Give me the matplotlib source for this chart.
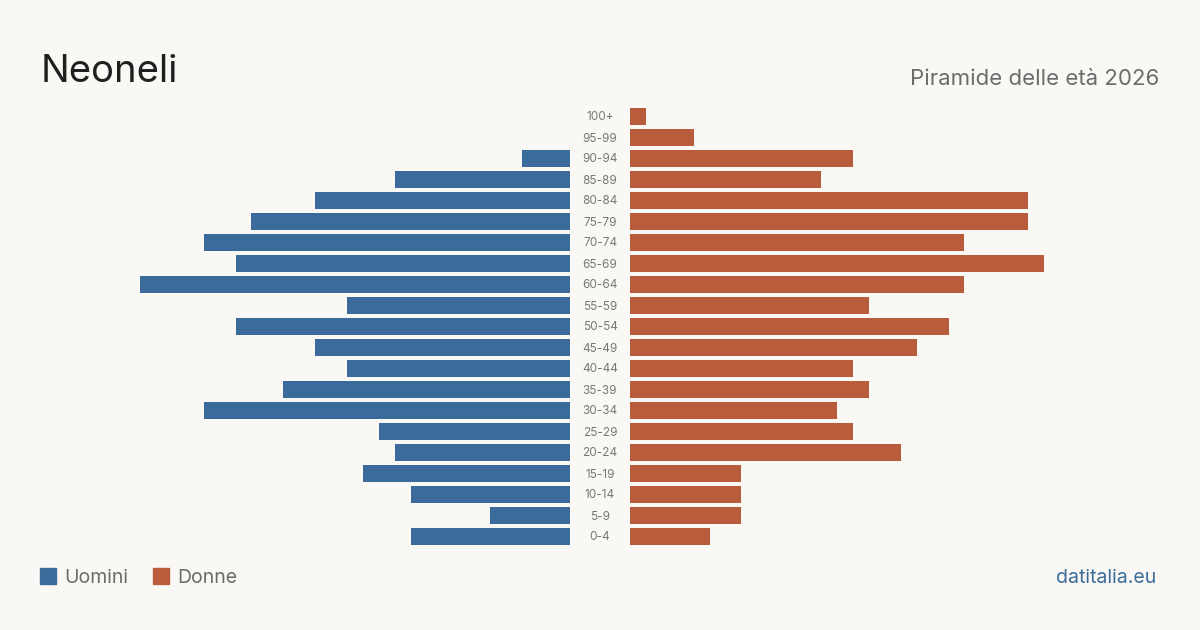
import matplotlib.pyplot as plt
from matplotlib.patches import Rectangle

plt.rcParams['font.family'] = ['Inter', 'DejaVu Sans']

age_groups = ['0-4', '5-9', '10-14', '15-19', '20-24', '25-29', '30-34', '35-39',
              '40-44', '45-49', '50-54', '55-59', '60-64', '65-69', '70-74',
              '75-79', '80-84', '85-89', '90-94', '95-99', '100+']
men = [10, 5, 10, 13, 11, 12, 23, 18, 14, 16, 21, 14, 27, 21, 23, 20, 16, 11, 3, 0, 0]
women = [5, 7, 7, 7, 17, 14, 13, 15, 14, 18, 20, 15, 21, 26, 21, 25, 25, 12, 14, 4, 1]

bg = '#f9f8f4'
blue = '#3a6b9b'
red = '#b95c3c'

fig = plt.figure(figsize=(12, 6.3), dpi=100, facecolor=bg)
xmax = max(max(men), max(women))
ypos = list(range(len(age_groups)))

ax_l = fig.add_axes([140 / 1200, 83 / 630, 430 / 1200, 441 / 630])
ax_r = fig.add_axes([630 / 1200, 83 / 630, 430 / 1200, 441 / 630])

ax_l.barh(ypos, men, height=17 / 21, color=blue)
ax_l.set_xlim(xmax, 0)
ax_r.barh(ypos, women, height=17 / 21, color=red)
ax_r.set_xlim(0, xmax)

for ax in (ax_l, ax_r):
    ax.set_ylim(-0.5, len(age_groups) - 0.5)
    ax.axis('off')
    ax.set_facecolor('none')

for y, lab in zip(ypos, age_groups):
    fig.text(600 / 1200, 1 - (537.5 - 21 * y) / 630, lab, ha='center', va='center',
             fontsize=8.5, color='#777777')

fig.text(41 / 1200, 1 - 82 / 630, 'Neoneli', fontsize=27.5, color='#1f1f1f',
         ha='left', va='baseline')
fig.text(1159 / 1200, 1 - 85 / 630, 'Piramide delle età 2026', fontsize=16,
         color='#6b6b6b', ha='right', va='baseline')

# legend
fig.patches.append(Rectangle((40 / 1200, 1 - 584 / 630), 16 / 1200, 16 / 630,
                             transform=fig.transFigure, color=blue))
fig.text(64 / 1200, 1 - 583 / 630, 'Uomini', fontsize=14, color='#6b6b6b',
         ha='left', va='baseline')
fig.patches.append(Rectangle((153 / 1200, 1 - 584 / 630), 16 / 1200, 16 / 630,
                             transform=fig.transFigure, color=red))
fig.text(177 / 1200, 1 - 583 / 630, 'Donne', fontsize=14, color='#6b6b6b',
         ha='left', va='baseline')

fig.text(1156 / 1200, 1 - 583 / 630, 'datitalia.eu', fontsize=14, color=blue,
         ha='right', va='baseline')

fig.savefig('out.png', dpi=100, facecolor=bg)
